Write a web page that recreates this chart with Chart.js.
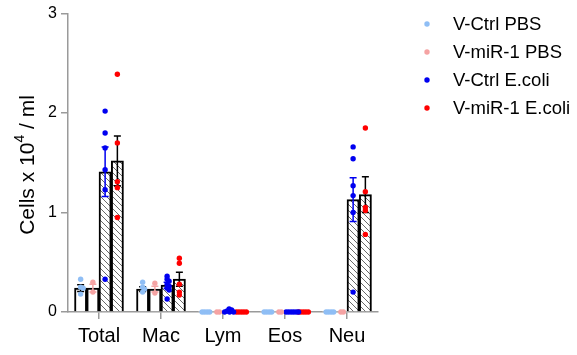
<!DOCTYPE html>
<html>
<head>
<meta charset="utf-8">
<script src="https://cdn.jsdelivr.net/npm/chart.js@4"></script>
<style>
  html, body { margin: 0; padding: 0; background: #fff; }
  #wrap { width: 577px; height: 355px; }
</style>
</head>
<body>
<div id="wrap"><canvas id="chart"></canvas></div>
<script>
const FONT = "'Liberation Sans', Arial, sans-serif";

const categories = ['Total', 'Mac', 'Lym', 'Eos', 'Neu'];
const groupLabels = ['V-Ctrl PBS', 'V-miR-1 PBS', 'V-Ctrl E.coli', 'V-miR-1 E.coli'];
const groupColors = ['#8fbef5', '#f5a3a3', '#0000f0', '#ff0000'];
const errorColors = ['#000000', '#f5a3a3', '#0000f0', '#000000'];
const yTicks = [0, 1, 2, 3];

// bar heights (mean) per category
const meanCtrlPBS = [0.24, 0.23, 0, 0, 0];
const meanMirPBS = [0.24, 0.23, 0, 0, 0];
const meanCtrlEcoli = [1.41, 0.27, 0.01, 0, 1.13];
const meanMirEcoli = [1.52, 0.33, 0, 0, 1.18];

// error (SEM) per category
const semCtrlPBS = [0.035, 0.025, 0, 0, 0];
const semMirPBS = [0.04, 0.03, 0, 0, 0];
const semCtrlEcoli = [0.25, 0.03, 0, 0, 0.22];
const semMirEcoli = [0.25, 0.07, 0, 0, 0.18];

// individual animals, one list per category
const dotsCtrlPBS = [
  [0.33, 0.25, 0.24, 0.18],
  [0.30, 0.25, 0.23, 0.20],
  [0, 0, 0, 0],
  [0, 0, 0, 0],
  [0, 0, 0, 0],
];
const dotsMirPBS = [
  [0.30, 0.20],
  [0.29, 0.19],
  [0, 0],
  [0, 0],
  [0, 0],
];
const dotsCtrlEcoli = [
  [2.02, 1.80, 1.65, 1.43, 1.23, 0.33],
  [0.36, 0.33, 0.31, 0.28, 0.26, 0.24, 0.22, 0.13],
  [0.03, 0.02, 0.01, 0, 0, 0],
  [0, 0, 0, 0, 0, 0],
  [1.66, 1.54, 1.27, 1.17, 1.00, 0.20],
];
const dotsMirEcoli = [
  [2.39, 1.70, 1.31, 1.25, 0.95],
  [0.54, 0.49, 0.28, 0.20, 0.17],
  [0, 0, 0, 0, 0],
  [0, 0, 0, 0, 0],
  [1.85, 1.21, 1.05, 1.02, 0.78],
];

const means = [meanCtrlPBS, meanMirPBS, meanCtrlEcoli, meanMirEcoli];
const sems = [semCtrlPBS, semMirPBS, semCtrlEcoli, semMirEcoli];
const dots = [dotsCtrlPBS, dotsMirPBS, dotsCtrlEcoli, dotsMirEcoli];

// share of a category slot taken by the 4 bars
const CAT_PCT = 0.79;
const BAR_STEP = CAT_PCT / 4;

function groupX(ci, gi) {
  return ci + (gi - 1.5) * BAR_STEP;
}

function makeHatch() {
  const c = document.createElement('canvas');
  c.width = 6;
  c.height = 6;
  const g = c.getContext('2d');
  g.fillStyle = '#fff';
  g.fillRect(0, 0, 6, 6);
  g.strokeStyle = '#6a6a6a';
  g.lineWidth = 1;
  g.beginPath();
  g.moveTo(-1, -1); g.lineTo(7, 7);
  g.moveTo(-4, 2); g.lineTo(4, 10);
  g.moveTo(2, -4); g.lineTo(10, 4);
  g.stroke();
  return document.getElementById('chart').getContext('2d').createPattern(c, 'repeat');
}

// simple beeswarm: nudge dots sideways (in px) until they don't collide
function swarmOffsets(values) {
  const pxX = 62, pxY = 99.7, minDist = 2.5;
  const placed = [];
  return values.map((v) => {
    const py = v * pxY;
    let off = 0;
    for (let k = 0; k < 80; k++) {
      const cand = (k % 2 ? 1 : -1) * Math.ceil(k / 2) * 0.5;
      const hit = placed.some((p) => Math.hypot(cand - p.x, py - p.y) < minDist);
      if (!hit) { off = cand; break; }
    }
    placed.push({ x: off, y: py });
    return off / pxX;
  });
}

function dotPoints(gi) {
  const pts = [];
  dots[gi].forEach((vals, ci) => {
    const offs = swarmOffsets(vals);
    vals.forEach((v, j) => pts.push({ x: groupX(ci, gi) + offs[j], y: v }));
  });
  return pts;
}

const hatch = makeHatch();

const barSets = groupLabels.map((label, gi) => ({
  type: 'bar',
  label,
  data: means[gi].map((m, ci) => ({ x: groupX(ci, gi), y: m })),
  backgroundColor: gi < 2 ? '#ffffff' : hatch,
  borderColor: '#000',
  borderWidth: (ctx) => (ctx.raw && ctx.raw.y > 0.02 ? 2 : 0),
  borderSkipped: 'bottom',
  grouped: false,
  categoryPercentage: 1,
  barPercentage: 1,
  order: 2,
}));

const dotSets = groupLabels.map((label, gi) => ({
  type: 'scatter',
  label,
  data: dotPoints(gi),
  pointRadius: 2.7,
  pointBorderWidth: 0,
  pointBackgroundColor: groupColors[gi],
  clip: false,
  order: 1,
}));

const errorBarPlugin = {
  id: 'errorBars',
  afterDatasetDraw(chart, args) {
    if (args.meta.type !== 'bar') return;
    const gi = args.index;
    const ctx = chart.ctx;
    const y = chart.scales.y;
    ctx.save();
    ctx.strokeStyle = errorColors[gi];
    ctx.lineWidth = 1.5;
    args.meta.data.forEach((bar, ci) => {
      const s = sems[gi][ci];
      if (!s) return;
      const m = means[gi][ci];
      const top = y.getPixelForValue(m + s);
      const bot = y.getPixelForValue(m - s);
      const x = bar.x;
      ctx.beginPath();
      ctx.moveTo(x, top); ctx.lineTo(x, bot);
      ctx.moveTo(x - 3.5, top); ctx.lineTo(x + 3.5, top);
      ctx.moveTo(x - 3.5, bot); ctx.lineTo(x + 3.5, bot);
      ctx.stroke();
    });
    ctx.restore();
  },
};

const decorPlugin = {
  id: 'decor',
  afterDraw(chart) {
    const ctx = chart.ctx;
    ctx.save();
    // legend
    ctx.font = `18.5px ${FONT}`;
    ctx.textBaseline = 'middle';
    ctx.textAlign = 'left';
    groupLabels.forEach((label, gi) => {
      const cy = 24 + gi * 28;
      ctx.fillStyle = groupColors[gi];
      ctx.beginPath();
      ctx.arc(427, cy, 2.7, 0, Math.PI * 2);
      ctx.fill();
      ctx.fillStyle = '#000';
      ctx.fillText(label, 453, cy + 1);
    });
    // y axis title with superscript
    ctx.translate(27, 165);
    ctx.rotate(-Math.PI / 2);
    const big = `21px ${FONT}`;
    const small = `14px ${FONT}`;
    const parts = [['Cells x 10', big, 0], ['4', small, -8], [' / ml', big, 0]];
    let total = 0;
    parts.forEach(([t, f]) => { ctx.font = f; total += ctx.measureText(t).width; });
    let x = -total / 2;
    ctx.fillStyle = '#000';
    parts.forEach(([t, f, dy]) => {
      ctx.font = f;
      ctx.fillText(t, x, dy + 1);
      x += ctx.measureText(t).width;
    });
    ctx.restore();
  },
};

new Chart(document.getElementById('chart'), {
  type: 'bar',
  data: { datasets: [...barSets, ...dotSets] },
  options: {
    responsive: true,
    maintainAspectRatio: false,
    animation: false,
    layout: { padding: { top: 13, right: 199, bottom: 0, left: 0 } },
    plugins: { legend: { display: false }, tooltip: { enabled: false } },
    scales: {
      x: {
        type: 'linear',
        min: -0.5,
        max: categories.length - 0.5,
        offset: false,
        afterBuildTicks: (s) => { s.ticks = categories.map((c, i) => ({ value: i })); },
        grid: { drawOnChartArea: false, drawTicks: true, tickLength: 7, color: '#9a9a9a', lineWidth: 1.5, offset: false },
        border: { color: '#9a9a9a', width: 1.5 },
        ticks: {
          color: '#000',
          font: { size: 20, family: FONT },
          padding: 5,
          callback: (v) => categories[v],
        },
        afterFit: (s) => { s.height = 43; },
      },
      y: {
        min: yTicks[0],
        max: yTicks[yTicks.length - 1],
        afterBuildTicks: (s) => { s.ticks = yTicks.map((v) => ({ value: v })); },
        grid: { drawOnChartArea: false, drawTicks: true, tickLength: 7, color: '#9a9a9a', lineWidth: 1.5 },
        border: { color: '#9a9a9a', width: 1.5 },
        ticks: { color: '#000', font: { size: 16, family: FONT }, padding: 4 },
        afterFit: (s) => { s.width = 68; },
      },
    },
  },
  plugins: [errorBarPlugin, decorPlugin],
});
</script>
</body>
</html>
